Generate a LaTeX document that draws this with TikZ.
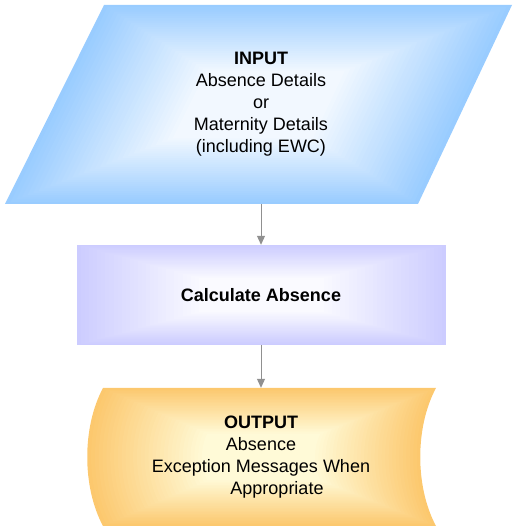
\documentclass[tikz,border=0pt]{standalone}
\usepackage{fontspec}
\setmainfont{Liberation Sans}
\usetikzlibrary{arrows.meta}
\definecolor{inedge}{RGB}{153,204,255}
\definecolor{incenter}{RGB}{242,248,255}
\definecolor{calcedge}{RGB}{204,204,255}
\definecolor{calccenter}{RGB}{250,250,255}
\definecolor{outedge}{RGB}{252,200,110}
\definecolor{outcenter}{RGB}{255,250,215}
\definecolor{arrowgray}{RGB}{144,144,144}
\tikzset{
  label text/.style={align=center, font=\fontsize{18}{22}\selectfont, inner sep=0pt, minimum width=1pt},
  flowarrow/.style={draw=arrowgray, line width=1pt, -{Triangle[width=8pt,length=9pt]}},
}
\newcommand{\gradfill}[5]{% #1 edge color, #2 center color, #3 cx, #4 cy, #5 path
  \foreach \i in {0,...,30}{
    \pgfmathsetmacro{\sc}{1-\i*0.022}
    \pgfmathsetmacro{\pc}{100-\i*100/30}
    \begin{scope}[shift={(#3,#4)}, scale=\sc, shift={(-#3,-#4)}]
      \fill[#1!\pc!#2] #5;
    \end{scope}
  }
}
\begin{document}
\begin{tikzpicture}[x=1pt,y=1pt]
\useasboundingbox (0,0) rectangle (513,527);
% input parallelogram
\gradfill{inedge}{incenter}{259}{422.5}{(104,522) -- (512,522) -- (418,323) -- (5,323) -- cycle}
% calculate rectangle
\gradfill{calcedge}{calccenter}{261.5}{232}{(77,182) rectangle (446,282)}
% output stored-data shape
\gradfill{outedge}{outcenter}{261}{70}{(103,139) -- (436,139) .. controls (415,100) and (415,40) .. (436,1) -- (103,1) .. controls (82,40) and (82,100) .. (103,139) -- cycle}
% text nodes
\node[label text, minimum height=199pt] (input) at (261,422.5)
  {\textbf{INPUT}\\Absence Details\\or\\Maternity Details\\(including EWC)};
\node[label text, minimum height=100pt] (calc) at (261,232)
  {\textbf{Calculate Absence}};
\node[label text, minimum height=138pt] (output) at (261,70)
  {\textbf{OUTPUT}\\Absence\\Exception Messages When\\\hspace*{32pt}Appropriate};
% connectors
\draw[flowarrow] (input.south) -- (calc.north);
\draw[flowarrow] (calc.south) -- (output.north);
\end{tikzpicture}
\end{document}
